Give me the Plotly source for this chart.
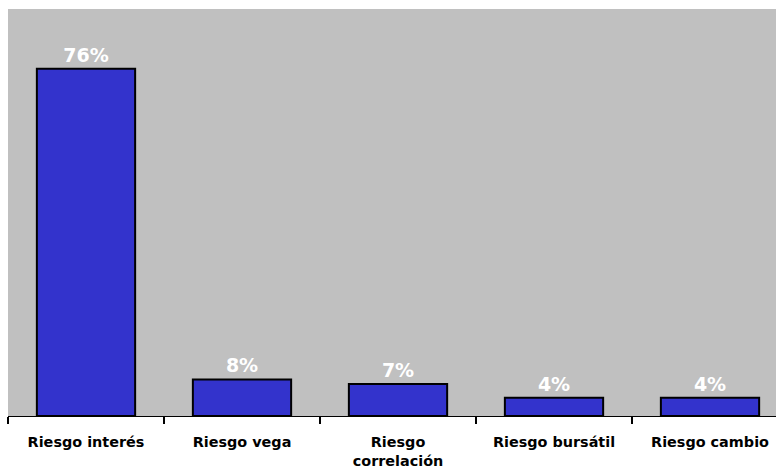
import plotly.graph_objects as go

categories = ["Riesgo interés", "Riesgo vega", "Riesgo<br>correlación", "Riesgo bursátil", "Riesgo cambio"]
values = [76, 8, 7, 4, 4]
labels = ["76%", "8%", "7%", "4%", "4%"]

fig = go.Figure(go.Bar(
    x=categories, y=values, text=labels, textposition="outside",
    textfont=dict(color="white", size=19, family="DejaVu Sans", weight="bold"),
    marker=dict(color="#3333CC", line=dict(color="black", width=2)),
    width=0.63, cliponaxis=False,
))
fig.update_layout(
    width=776, height=470,
    margin=dict(l=8, r=0, t=9, b=54),
    paper_bgcolor="white", plot_bgcolor="#C0C0C0",
    showlegend=False,
    font=dict(family="DejaVu Sans", color="black"),
)
fig.update_xaxes(
    range=[-0.5, 4.423], showline=True, linecolor="black", linewidth=1,
    ticks="outside", tickson="boundaries", ticklen=7, tickcolor="black", tickwidth=2,
    tickfont=dict(size=14.4, family="DejaVu Sans", weight="bold"),
    ticklabelstandoff=13,
    showgrid=False,
)
fig.update_yaxes(range=[0, 89.1], visible=False, showgrid=False)
fig.write_html("out.html")
